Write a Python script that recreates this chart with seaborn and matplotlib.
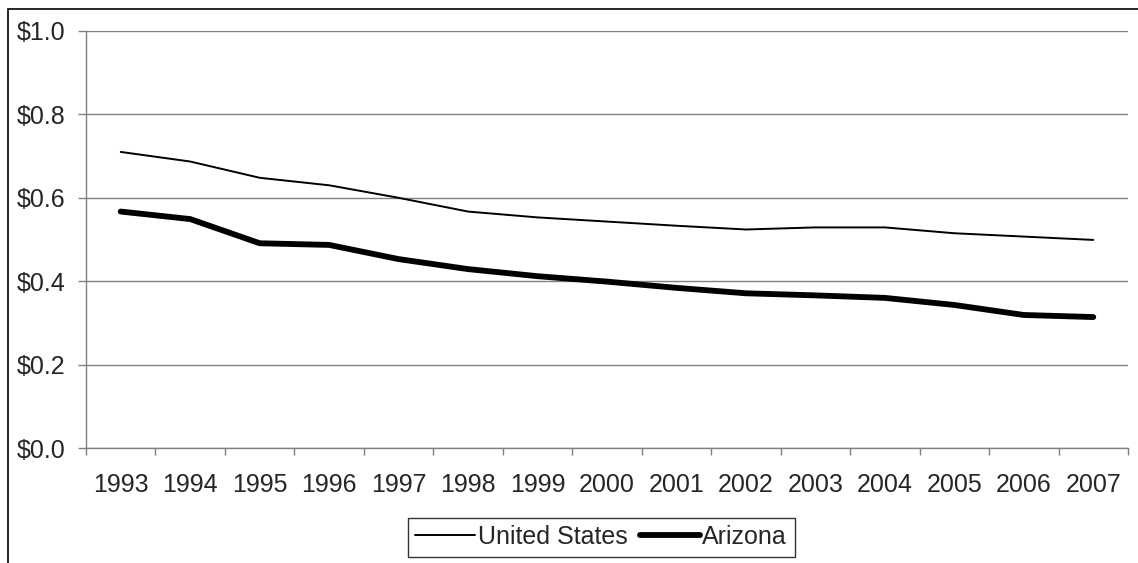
import numpy as np
import pandas as pd
import matplotlib.pyplot as plt
import seaborn as sns
from matplotlib.patches import Rectangle

years = [str(y) for y in range(1993, 2008)]
us_values = [0.710, 0.687, 0.648, 0.630, 0.600, 0.567, 0.553, 0.543,
             0.533, 0.524, 0.529, 0.529, 0.515, 0.507, 0.499]
az_values = [0.567, 0.549, 0.491, 0.487, 0.453, 0.429, 0.412, 0.399,
             0.384, 0.371, 0.366, 0.360, 0.343, 0.319, 0.314]
y_ticks = [0.0, 0.2, 0.4, 0.6, 0.8, 1.0]

df = pd.DataFrame({"year": years, "United States": us_values, "Arizona": az_values})

sns.set_theme(style="white")
plt.rcParams["font.family"] = ["Liberation Sans", "DejaVu Sans"]

fig = plt.figure(figsize=(11.38, 5.63), dpi=100)
ax = fig.add_axes([86 / 1138, 1 - 448 / 563, (1128 - 86) / 1138, (448 - 31) / 563])

# outer chart frame (only left/top edges are visible in the crop)
fig.patches.append(Rectangle((8 / 1138, -0.1), 1.2, 1 - 9 / 563 + 0.1,
                             transform=fig.transFigure, fill=False,
                             edgecolor="black", linewidth=1.2, zorder=0))

sns.lineplot(data=df, x="year", y="United States", ax=ax, color="black",
             linewidth=1.4, label="United States", sort=False)
sns.lineplot(data=df, x="year", y="Arizona", ax=ax, color="black",
             linewidth=4.2, label="Arizona", sort=False,
             solid_capstyle="round", solid_joinstyle="round")

ax.set_xlim(-0.5, len(years) - 0.5)
ax.set_ylim(0, 1.0)
ax.set_yticks(y_ticks)
ax.set_yticklabels([f"${v:.1f}" for v in y_ticks])
ax.set_xticks(np.arange(len(years)))
ax.set_xticklabels(years)
ax.set_xticks(np.arange(-0.5, len(years)), minor=True)
ax.tick_params(axis="x", which="major", length=0, pad=18, labelsize=18)
ax.tick_params(axis="x", which="minor", length=5, width=1, color="#808080",
               direction="out", bottom=True)
ax.tick_params(axis="y", length=6, width=1, color="#808080", direction="out",
               left=True, pad=9, labelsize=18)
ax.set_xlabel("")
ax.set_ylabel("")
ax.grid(axis="y", color="#808080", linewidth=1)
ax.set_axisbelow(True)
for s in ["top", "right"]:
    ax.spines[s].set_visible(False)
for s in ["left", "bottom"]:
    ax.spines[s].set_color("#808080")
    ax.spines[s].set_linewidth(1)

handles, labels = ax.get_legend_handles_labels()
ax.get_legend().remove()
leg = fig.legend(handles, labels, loc="center", bbox_to_anchor=(601 / 1138, 1 - 537 / 563),
                 ncol=2, fontsize=18, frameon=True, fancybox=False, handlelength=2.4,
                 handletextpad=0.1, columnspacing=0.5, borderpad=0.3, borderaxespad=0)
leg.get_frame().set_edgecolor("black")
leg.get_frame().set_linewidth(1)

fig.savefig("out.png", dpi=100)
